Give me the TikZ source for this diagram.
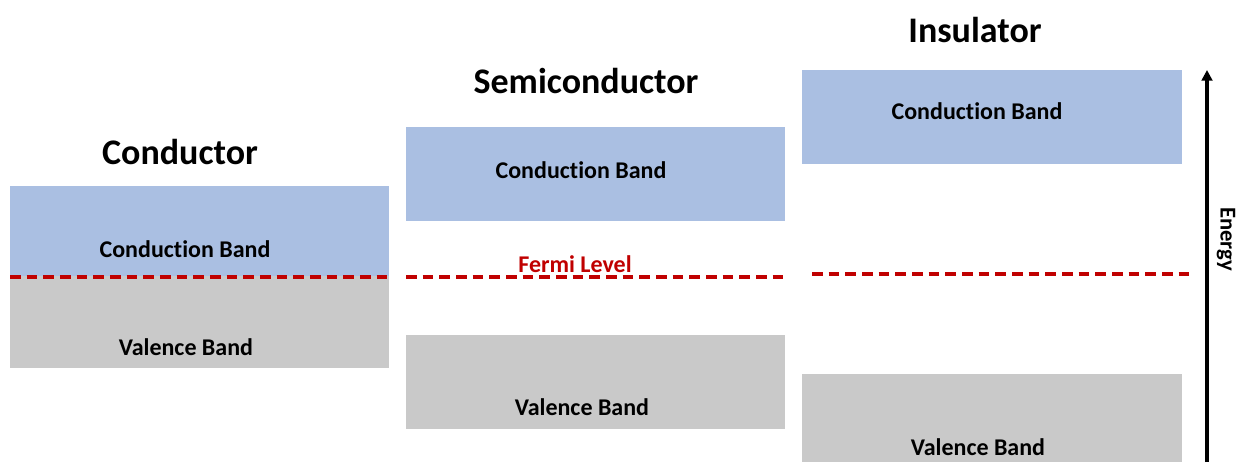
\documentclass[tikz,border=0pt]{standalone}
\usepackage{fontspec}
\setmainfont{Carlito}[Ligatures=NoCommon]
\usetikzlibrary{arrows.meta}
\definecolor{cband}{HTML}{AABFE2}
\definecolor{vband}{HTML}{C9C9C9}
\definecolor{fermi}{HTML}{C00000}
\tikzset{
  band/.style={draw=none, inner sep=0pt, outer sep=0pt, anchor=north west},
  cb/.style={band, fill=cband},
  vb/.style={band, fill=vband},
  lbl/.style={font=\bfseries\fontsize{18}{20}\selectfont, inner sep=0pt},
  title/.style={font=\bfseries\fontsize{27}{30}\selectfont, inner sep=0pt},
  fermiline/.style={draw=fermi, line width=2.8pt, dash pattern=on 8pt off 4.5pt},
}
\begin{document}
\begin{tikzpicture}[x=0.75pt, y=-0.75pt]
\useasboundingbox (0,0) rectangle (1240,462);
% Conductor
\node[cb, minimum width=379*0.75pt, minimum height=90*0.75pt] (c1) at (10,186) {};
\node[vb, minimum width=379*0.75pt, minimum height=92*0.75pt] (v1) at (10,276) {};
\node[title] (t1) at (180,152) {Conductor};
\node[lbl] (c1l) at (185,249) {Conduction Band};
\node[lbl] (v1l) at (186,347) {Valence Band};
\coordinate (f1a) at (10,277);
\coordinate (f1b) at (389,277);
\draw[fermiline] (f1a) -- (f1b);
% Semiconductor
\node[cb, minimum width=379*0.75pt, minimum height=94*0.75pt] (c2) at (406,127) {};
\node[vb, minimum width=379*0.75pt, minimum height=94*0.75pt] (v2) at (406,335) {};
\node[title] (t2) at (586,81) {Semiconductor};
\node[lbl] (c2l) at (581,170) {Conduction Band};
\node[lbl] (v2l) at (582,407) {Valence Band};
\node[lbl, text=fermi] (fl) at (575,264) {Fermi Level};
\coordinate (f2a) at (406,277);
\coordinate (f2b) at (785,277);
\draw[fermiline] (f2a) -- (f2b);
% Insulator
\node[cb, minimum width=380*0.75pt, minimum height=94*0.75pt] (c3) at (802,70) {};
\node[vb, minimum width=380*0.75pt, minimum height=88*0.75pt] (v3) at (802,374) {};
\node[title] (t3) at (975,30) {Insulator};
\node[lbl] (c3l) at (977,111) {Conduction Band};
\node[lbl] (v3l) at (978,447) {Valence Band};
\coordinate (f3a) at (812,274);
\coordinate (f3b) at (1190,274);
\draw[fermiline] (f3a) -- (f3b);
% Energy axis
\coordinate (ea) at (1207,462);
\coordinate (eb) at (1207,70);
\draw[line width=2.3pt, -{Triangle[length=8pt, width=8pt]}] (ea) -- (eb);
\node[lbl, rotate=-90, font=\bfseries\fontsize{17}{20}\selectfont] (en) at (1226,239) {Energy};
\end{tikzpicture}
\end{document}
